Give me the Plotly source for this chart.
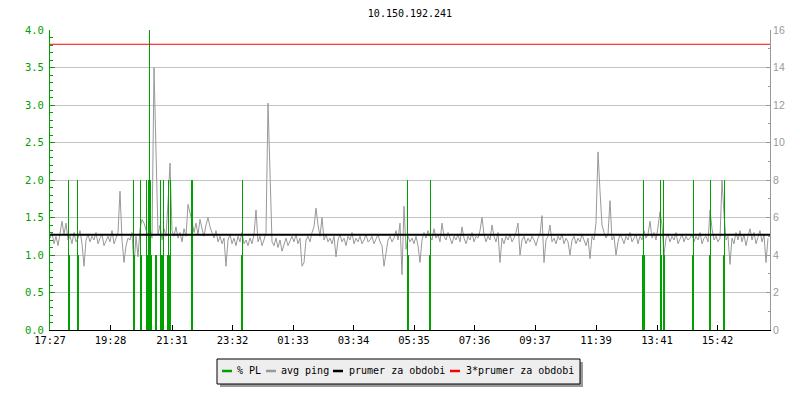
import plotly.graph_objects as go

# ---------------- data ----------------
title_text = "10.150.192.241"
start_label = "17:27"
tick_labels = ["17:27", "19:28", "21:31", "23:32", "01:33", "03:34",
               "05:35", "07:36", "09:37", "11:39", "13:41", "15:42"]

ping_step_min = 4  # one sample every 4 minutes, starting at 17:27
avg_ping = [
    4.9, 5.2, 4.6, 5.0, 4.5, 5.3, 5.8, 5.1, 5.7, 4.8, 5.0, 4.6, 5.2, 4.7, 4.9, 5.3, 4.6, 3.4, 4.8, 5.1,
    4.7, 5.0, 4.8, 5.2, 4.6, 4.9, 5.1, 4.5, 4.8, 5.0, 4.7, 5.3, 4.6, 4.9, 5.2, 7.4, 4.8, 3.6, 4.5, 4.9,
    4.8, 5.2, 3.4, 5.0, 3.9, 5.4, 5.9, 5.7, 5.3, 5.0, 5.5, 4.9, 14.0, 9.2, 5.1, 5.6, 4.8, 5.4, 5.0, 6.8,
    8.9, 5.3, 5.0, 5.5, 4.9, 5.2, 4.7, 5.4, 5.0, 6.7, 6.3, 5.8, 5.2, 5.7, 5.1, 5.9, 5.4, 5.0, 5.6, 6.0,
    5.5, 5.2, 4.9, 5.3, 4.7, 5.0, 4.6, 4.9, 3.4, 4.8, 5.1, 4.6, 4.9, 4.5, 5.0, 4.7, 5.2, 4.6, 4.8, 4.5,
    4.9, 4.6, 5.1, 6.4, 4.7, 5.0, 4.5, 4.8, 5.2, 12.1, 8.4, 4.7, 4.5, 4.9, 4.4, 4.8, 4.2, 4.6, 4.9, 4.5,
    4.8, 5.0, 4.7, 5.1, 4.6, 4.9, 3.4, 3.6, 4.8, 5.0, 4.7, 5.2, 5.5, 6.5, 5.6, 5.0, 6.0, 4.8, 5.1, 4.7,
    4.9, 4.6, 5.0, 3.9, 4.8, 5.1, 4.7, 4.9, 4.5, 5.0, 4.8, 5.2, 4.6, 4.9, 4.7, 5.0, 4.6, 4.8, 5.1, 4.7,
    4.8, 5.0, 4.6, 4.9, 5.1, 4.7, 4.5, 3.4, 4.0, 4.8, 5.0, 4.7, 4.9, 5.3, 4.8, 5.7, 2.95, 6.6, 4.3, 5.0,
    4.7, 4.9, 4.6, 5.0, 4.5, 3.6, 4.8, 5.2, 4.9, 5.3, 5.0, 4.8, 5.4, 4.9, 5.1, 4.7, 5.7, 5.0, 4.8, 5.2,
    4.9, 4.6, 5.0, 4.8, 5.1, 4.7, 5.5, 4.9, 4.6, 5.0, 4.8, 5.2, 4.7, 5.0, 4.9, 5.3, 6.0, 5.1, 4.7, 5.0,
    4.8, 5.6, 5.0, 4.7, 5.2, 3.6, 4.9, 4.6, 5.0, 4.8, 5.1, 4.7, 4.9, 5.2, 5.7, 4.0, 4.8, 5.0, 4.6, 4.9,
    4.7, 5.0, 4.8, 4.5, 4.9, 5.1, 6.1, 3.6, 4.8, 5.0, 5.6, 4.7, 4.9, 4.6, 5.0, 4.8, 5.1, 4.6, 4.9, 4.7,
    4.0, 4.8, 5.0, 4.6, 4.9, 4.7, 5.1, 4.8, 4.5, 4.9, 3.8, 5.0, 4.8, 5.7, 9.5, 7.4, 5.6, 5.2, 4.9, 5.1,
    6.9, 4.8, 5.0, 4.0, 4.7, 5.1, 4.9, 4.6, 5.0, 4.8, 5.2, 4.7, 4.9, 5.1, 4.6, 5.0, 4.8, 5.3, 4.9, 5.1,
    5.8, 4.9, 5.2, 4.8, 5.5, 6.3, 5.6, 4.0, 4.9, 5.1, 4.7, 5.0, 4.8, 5.2, 4.6, 4.9, 5.1, 4.7, 5.0, 4.8,
    4.9, 5.1, 4.7, 5.0, 4.8, 5.2, 4.6, 4.9, 5.0, 4.7, 6.4, 5.4, 4.8, 5.0, 4.7, 4.9, 8.0, 6.2, 4.8, 5.0,
    3.5, 4.9, 4.6, 5.2, 4.8, 5.3, 4.7, 5.1, 4.5, 5.0, 5.4, 4.8, 5.2, 4.6, 5.0, 5.3, 4.7, 5.1, 3.6, 4.9,
]

# packet loss samples (minutes after 17:27, 2-minute samples, % PL); all other samples are 0
pl_minute = [36, 38, 54, 56, 166, 168, 180, 182, 192, 194, 196, 198, 200, 202,
             210, 212, 220, 222, 224, 226, 234, 236, 238, 240, 282, 284, 382, 384,
             714, 716, 758, 760, 1184, 1186, 1188, 1220, 1222, 1226, 1228,
             1284, 1286, 1318, 1320, 1346, 1348]
pl_value = [2, 1, 2, 1, 2, 1, 2, 1, 2, 1, 2, 4, 2, 1,
            1, 1, 2, 1, 1, 2, 1, 2, 1, 2, 2, 2, 1, 2,
            2, 1, 1, 2, 1, 2, 1, 2, 1, 2, 1,
            1, 2, 1, 2, 1, 2]
pl_sample_min = 2

mean_ping = 5.08  # "prumer za obdobi"
series_names = ["% PL", "avg ping", "prumer za obdobi", "3*prumer za obdobi"]

# ---------------- style ----------------
GREEN = "#00a000"
GRAY = "#999999"
GRID = "#c4c4c4"
MONO = "DejaVu Sans Mono"
OFF = 8                      # page body margin of the browser
W, H = 800 - OFF, 400 - OFF  # figure size
PL_X0, PL_X1, PL_Y0, PL_Y1 = 50, 770, 30, 330  # plot area in page pixels
L, R, T, B = PL_X0 - OFF, 800 - PL_X1, PL_Y0 - OFF, 400 - PL_Y1
PW, PH = PL_X1 - PL_X0, PL_Y1 - PL_Y0
SPAN = 1440


def to_min(s):
    h, m = map(int, s.split(":"))
    h0, m0 = map(int, start_label.split(":"))
    return (h * 60 + m - (h0 * 60 + m0)) % 1440


tick_vals = [to_min(s) for s in tick_labels]
ping_x = [i * ping_step_min for i in range(len(avg_ping))]

# full packet-loss series on the 2-minute grid
n_pl = SPAN // pl_sample_min
pl_series = [0] * (n_pl + 1)
for m, v in zip(pl_minute, pl_value):
    pl_series[m // pl_sample_min] = v
pl_x = [k * pl_sample_min for k in range(n_pl + 1)]

fig = go.Figure()
fig.add_trace(go.Scatter(x=ping_x, y=avg_ping, mode="lines", yaxis="y",
                         line=dict(color=GRAY, width=1),
                         showlegend=False, hoverinfo="skip"))
fig.add_trace(go.Scatter(x=pl_x, y=pl_series, mode="lines", yaxis="y2",
                         line=dict(color=GREEN, width=0, shape="hv"),
                         fill="tozeroy", fillcolor=GREEN,
                         showlegend=False, hoverinfo="skip"))
fig.add_trace(go.Scatter(x=[0, SPAN], y=[mean_ping, mean_ping], mode="lines", yaxis="y3",
                         line=dict(color="black", width=2), showlegend=False, hoverinfo="skip"))
fig.add_trace(go.Scatter(x=[0, SPAN], y=[3 * mean_ping, 3 * mean_ping], mode="lines", yaxis="y3",
                         line=dict(color="#ff0000", width=1), showlegend=False, hoverinfo="skip"))


def px(xp):
    return (xp - PL_X0) / PW


def py(yp):
    return (PL_Y1 - yp) / PH


shapes = []
annotations = []
# legend box with drop shadow
bx0, bx1, by0, by1 = 217, 580, 359, 384
shapes.append(dict(type="rect", xref="paper", yref="paper", x0=px(bx0 + 3), x1=px(bx1 + 3),
                   y0=py(by0 + 3), y1=py(by1 + 3), fillcolor="#9a9a9a", line=dict(width=0), layer="above"))
shapes.append(dict(type="rect", xref="paper", yref="paper", x0=px(bx0), x1=px(bx1),
                   y0=py(by0), y1=py(by1), fillcolor="#eeeeee", line=dict(color="black", width=1), layer="above"))
legend_colors = [GREEN, GRAY, "black", "#ff0000"]
swatch_x = [222, 266, 333, 450]
text_x = [235, 279, 347, 464]
ly = 371
for name, col, sx, tx in zip(series_names, legend_colors, swatch_x, text_x):
    shapes.append(dict(type="line", xref="paper", yref="paper", x0=px(sx), x1=px(sx + 10),
                       y0=py(ly), y1=py(ly), line=dict(color=col, width=2.5), layer="above"))
    annotations.append(dict(text=name, xref="paper", yref="paper", x=px(tx), y=py(ly - 1),
                            xanchor="left", yanchor="middle", showarrow=False,
                            font=dict(family=MONO, size=10, color="black")))

fig.update_layout(
    width=W, height=H,
    margin=dict(l=L, r=R, t=T, b=B, pad=0, autoexpand=False),
    paper_bgcolor="white", plot_bgcolor="white",
    title=dict(text=title_text, x=0.5, xref="paper", xanchor="center",
               y=1 - (13 - OFF) / H, yref="container", yanchor="middle",
               font=dict(family=MONO, size=10, color="black")),
    showlegend=False,
    xaxis=dict(range=[0, SPAN], tickvals=tick_vals, ticktext=tick_labels,
               ticks="inside", ticklen=5, tickcolor="black", tickwidth=1,
               showline=True, linecolor="black", linewidth=1,
               showgrid=False, zeroline=False,
               tickfont=dict(family=MONO, size=10.5, color="black")),
    yaxis=dict(side="right", range=[0, 16], tick0=0, dtick=2,
               ticks="inside", ticklen=4, tickcolor=GRAY,
               showline=True, linecolor=GRAY, linewidth=1,
               showgrid=True, gridcolor=GRID, gridwidth=1, zeroline=False,
               tickfont=dict(family="Liberation Sans", size=10.5, color=GRAY),
               minor=dict(dtick=1, ticks="inside", ticklen=2, tickcolor=GRAY, showgrid=False)),
    yaxis2=dict(overlaying="y", side="left", range=[0, 4], tick0=0, dtick=0.5,
                tickformat=".1f", ticks="inside", ticklen=5, tickcolor=GREEN,
                showline=True, linecolor=GREEN, linewidth=1,
                showgrid=False, zeroline=False, ticklabelstandoff=3,
                tickfont=dict(family=MONO, size=10.5, color=GREEN),
                minor=dict(dtick=0.1, ticks="inside", ticklen=3, tickcolor=GREEN, showgrid=False)),
    yaxis3=dict(overlaying="y", range=[0, 16], visible=False),
    shapes=shapes,
    annotations=annotations,
)

fig.write_html("out.html")
